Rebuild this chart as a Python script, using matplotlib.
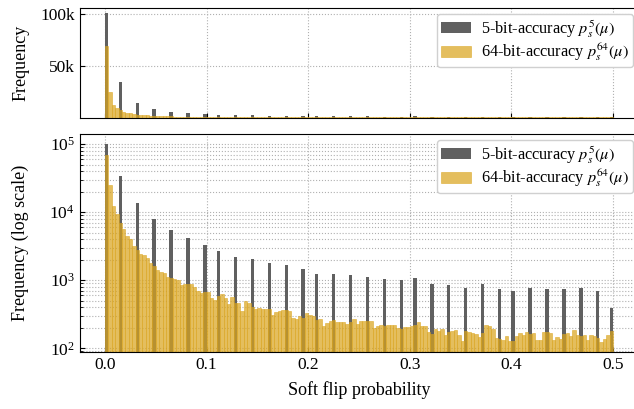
import numpy as np
import matplotlib
matplotlib.use("Agg")
import matplotlib.pyplot as plt
from matplotlib.ticker import FuncFormatter, LogLocator, NullFormatter, FixedLocator

# 5-bit quantised soft flip probabilities (32 levels) and how often each occurs
levels_5bit = np.linspace(0.0, 0.5, 32)
counts_5bit = [100500, 34500, 13800, 7900, 5460, 4120, 3290, 2680, 2190, 2050,
               1790, 1670, 1460, 1230, 1230, 1190, 1110, 1040, 1010, 1080,
               880, 851, 768, 880, 743, 694, 768, 743, 743, 768, 694, 391]

# 64-bit soft flip probabilities, binned into 150 bins over [0, 0.5]
n_bins = 150
counts_64bit = [68900, 25000, 12300, 9400, 6900, 5570, 4460, 4030, 3180, 2780,
                2420, 2340, 2120, 1790, 1620, 1410, 1320, 1280, 1110, 1080,
                1040, 1000, 851, 880, 880, 880, 794, 694, 649, 671,
                671, 548, 512, 586, 627, 548, 447, 567, 467, 458,
                353, 495, 465, 404, 378, 395, 378, 378, 374, 308,
                338, 353, 360, 360, 353, 281, 269, 295, 281, 330,
                308, 295, 263, 269, 215, 235, 252, 263, 246, 243,
                243, 227, 246, 269, 227, 252, 252, 252, 252, 199,
                213, 220, 215, 220, 220, 220, 199, 194, 203, 203,
                213, 220, 243, 213, 213, 173, 162, 192, 180, 192,
                157, 173, 180, 186, 157, 128, 180, 173, 168, 162,
                147, 168, 220, 213, 195, 142, 137, 132, 152, 128,
                128, 152, 168, 157, 173, 162, 168, 132, 132, 173,
                173, 168, 132, 147, 137, 162, 168, 152, 186, 157,
                152, 157, 132, 157, 152, 142, 124, 137, 157, 180]

bin_edges = np.linspace(0.0, 0.5, n_bins + 1)
bin_mids = 0.5 * (bin_edges[:-1] + bin_edges[1:])

label_5 = r"5-bit-accuracy $p_s^{5}(\mu)$"
label_64 = r"64-bit-accuracy $p_s^{64}(\mu)$"

plt.rcParams["font.family"] = ["Liberation Serif", "DejaVu Serif"]
plt.rcParams["mathtext.fontset"] = "stix"
plt.rcParams["font.size"] = 13
plt.rcParams["xtick.labelsize"] = 12.5
plt.rcParams["ytick.labelsize"] = 12.5
plt.rcParams["xtick.direction"] = "in"
plt.rcParams["ytick.direction"] = "in"
plt.rcParams["xtick.major.size"] = 3.5
plt.rcParams["ytick.major.size"] = 3.5
plt.rcParams["ytick.minor.size"] = 2.0

fig = plt.figure(figsize=(6.34, 4.09), dpi=100)
ax_lin = fig.add_axes([0.1256, 0.7125, 0.8814, 0.2672])
ax_log = fig.add_axes([0.1256, 0.1401, 0.8814, 0.5315], sharex=ax_lin)


def draw(ax):
    ax.hist(levels_5bit, bins=bin_edges, weights=counts_5bit,
            color="#606060", label=label_5)
    ax.hist(bin_mids, bins=bin_edges, weights=counts_64bit,
            color="goldenrod", alpha=0.72, edgecolor="goldenrod",
            linewidth=0.5, label=label_64)
    ax.set_axisbelow(True)
    ax.legend(loc="upper right", fontsize=11.7, framealpha=1.0,
              edgecolor="#d0d0d0", handlelength=1.85, handleheight=0.65,
              handletextpad=0.6, borderpad=0.25, borderaxespad=0.35,
              labelspacing=0.12)


# top: linear counts
draw(ax_lin)
ax_lin.set_ylim(0, 105500)
ax_lin.yaxis.set_major_locator(FixedLocator([50000, 100000]))
ax_lin.yaxis.set_major_formatter(FuncFormatter(lambda v, p: f"{int(v / 1000)}k"))
ax_lin.grid(True, linestyle=":", color="#b0b0b0", linewidth=0.8)
ax_lin.set_ylabel("Frequency")
ax_lin.tick_params(axis="x", labelbottom=False)

# bottom: log counts
draw(ax_log)
ax_log.set_yscale("log")
ax_log.set_ylim(89, 1.39e5)
ax_log.yaxis.set_major_locator(LogLocator(base=10))
ax_log.yaxis.set_minor_locator(LogLocator(base=10, subs=np.arange(2, 10)))
ax_log.yaxis.set_minor_formatter(NullFormatter())
ax_log.grid(True, which="both", linestyle=":", color="#b0b0b0", linewidth=0.8)
ax_log.set_ylabel("Frequency (log scale)")
ax_log.set_xlabel("Soft flip probability", labelpad=6)

ax_log.set_xlim(-0.025, 0.525)
ax_log.set_xticks([0.0, 0.1, 0.2, 0.3, 0.4, 0.5])

ax_lin.yaxis.set_label_coords(-0.0905, 0.5)
ax_log.yaxis.set_label_coords(-0.0905, 0.5)

fig.savefig("out.png", dpi=100)
